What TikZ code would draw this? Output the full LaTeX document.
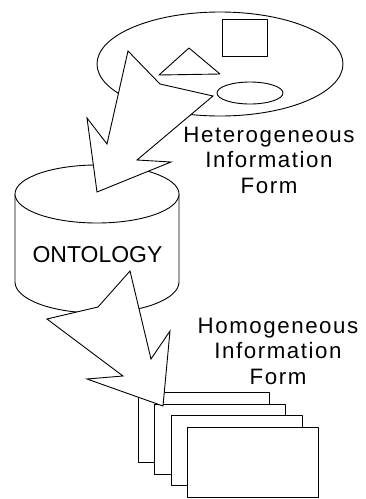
\documentclass[tikz,border=0pt]{standalone}
\usepackage{fontspec}
\newfontfamily\labelfont[LetterSpace=7]{Liberation Sans}
\newfontfamily\dbfont{Liberation Sans}
\usetikzlibrary{positioning}
\tikzset{
  every picture/.style={line width=0.9pt, line join=round},
  figure/.style={draw, fill=white},
  bolt/.style={draw, fill=white, line join=miter},
  sheet/.style={draw, fill=white, minimum width=131pt, minimum height=70pt, inner sep=0pt, anchor=north west},
  lbl/.style={font=\labelfont\fontsize{22.3}{25.5}\selectfont, inner sep=0pt, anchor=base},
  dblabel/.style={font=\dbfont\fontsize{23}{27}\selectfont, inner sep=0pt, anchor=base},
}

\begin{document}
\begin{tikzpicture}[x=1pt, y=1pt]
  \useasboundingbox (0,0) rectangle (365,-499);
  \draw[figure] (220,-64) ellipse[x radius=123, y radius=52];
  \draw[figure] (222,-19) rectangle (267,-56);
  \draw[figure] (159,-75) -- (189,-48) -- (220,-74) -- cycle;
  \draw[figure] (250,-93) ellipse[x radius=33, y radius=11];

  \draw[figure] (15,-194) -- (15,-282) arc[start angle=180, end angle=360, x radius=82, y radius=31] -- (179,-194);
  \draw[figure] (97,-194) ellipse[x radius=82, y radius=29];
  \node[dblabel] (onto) at (97.5,-262) {ONTOLOGY};

  \foreach \i in {0,...,3}
    \node[sheet] (page\i) at ({138+16.3*\i}, {-392-11.7*\i}) {};

  \node[lbl] (het1) at (269,-142.5) {Heterogeneous};
  \node[lbl, below=25pt of het1.base, anchor=base] (het2) {Information};
  \node[lbl, below=25.5pt of het2.base, anchor=base] (het3) {Form};
  \node[lbl] (hom1) at (278,-333) {Homogeneous};
  \node[lbl, below=25.5pt of hom1.base, anchor=base] (hom2) {Information};
  \node[lbl, below=25.5pt of hom2.base, anchor=base] (hom3) {Form};

  \draw[bolt] (128,-51) -- (160,-84) -- (213,-96) -- (137,-160) -- (171,-162) -- (97,-192) -- (87,-118) -- (107,-144) -- cycle;
  \draw[bolt] (130,-271) -- (151,-359) -- (170,-331) -- (163,-406) -- (87,-379) -- (123,-376) -- (47,-319) -- (98,-307) -- cycle;
\end{tikzpicture}
\end{document}
